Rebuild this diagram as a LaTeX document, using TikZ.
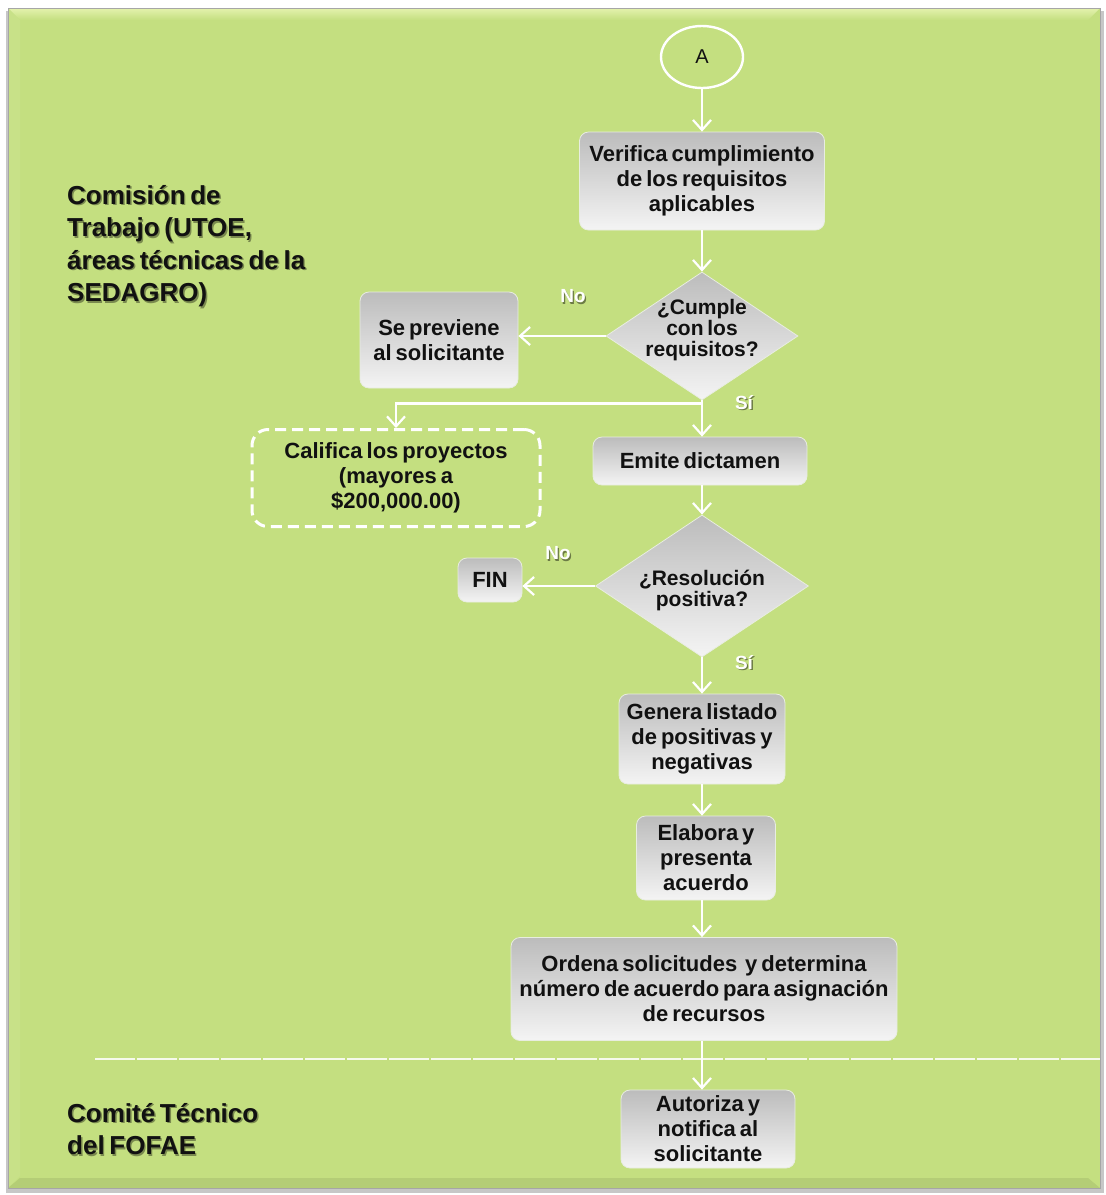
\documentclass[tikz,border=0pt]{standalone}
\usepackage{fontspec}
\setmainfont{Liberation Sans}[WordSpace={0.65,0.5,0.5}]
\usetikzlibrary{arrows.meta,shapes.geometric,calc}

\definecolor{panel}{HTML}{C4DF80}
\definecolor{bevel}{HTML}{E4F2AE}
\definecolor{boxtop}{HTML}{BCBCBC}
\definecolor{boxbot}{HTML}{F4F4F4}
\definecolor{boxedge}{HTML}{E8EDE0}
\definecolor{ink}{HTML}{111111}
\colorlet{shade}{panel!62!black}
\colorlet{tagshade}{panel!55!black}

\newcommand\fcBox{\bfseries\fontsize{22}{25}\selectfont}
\newcommand\fcDec{\bfseries\fontsize{21}{21}\selectfont}
\newcommand\fcSide{\bfseries\fontsize{26}{32.5}\selectfont}
\newcommand\fcTag{\bfseries\fontsize{19}{21}\selectfont}
% text with a soft drop shadow underneath
\newcommand\shtext[2][shade]{\makebox[0pt][l]{\kern1.4pt\raisebox{-1.4pt}{\color{#1}#2}}#2}

\begin{document}
\begin{tikzpicture}[x=1pt,y=-1pt,
  box/.style={rounded corners=9pt, top color=boxtop, bottom color=boxbot,
    draw=boxedge, line width=0.8pt, align=center, font=\fcBox, text=ink,
    inner sep=0pt},
  decision/.style={shape=diamond, aspect=1.5, inner sep=0pt,
    top color=boxtop, bottom color=boxbot, draw=boxedge, line width=0.8pt},
  dlabel/.style={align=center, font=\fcDec, text=ink, inner sep=0pt},
  optbox/.style={rounded corners=16pt, draw=white, line width=3pt,
    dash pattern=on 11pt off 6pt, align=center, font=\fcBox, text=ink,
    inner sep=0pt},
  tag/.style={font=\fcTag, text=white, inner sep=0pt},
  side/.style={font=\fcSide, text=ink, align=left, anchor=north west, inner sep=0pt},
  flow/.style={draw=white, line width=2.2pt,
    -{Straight Barb[length=10pt,width=18pt,line width=2.2pt]}},
  link/.style={draw=white, line width=2.2pt}]

\useasboundingbox (0,0) rectangle (1106,1195);

% page and green panel
\fill[white] (0,0) rectangle (1106,1195);
\fill[black!22] (6,11) rectangle (1104,1193);
\fill[panel] (8,8) rectangle (1100,1188);
\shade[top color=bevel, bottom color=panel] (8,8) -- (1100,8) -- (1088,20) -- (20,20) -- cycle;
\fill[panel!94!white] (8,8) -- (20,20) -- (20,1176) -- (8,1188) -- cycle;
\fill[panel!92!black] (8,1188) -- (20,1178) -- (1088,1178) -- (1100,1188) -- cycle;
\draw[black!35, line width=0.6pt] (8,8) rectangle (1100,1188);

% lane separator
\draw[white!85!panel, line width=1.1pt, dash pattern=on 40pt off 2pt] (95,1059) -- (1100,1059);

% lane titles
\node[side] (lane1) at (67,185) {\shtext{Comisión de}\\\shtext{Trabajo (UTOE,}\\\shtext{áreas técnicas de la}\\\shtext{SEDAGRO)}};
\node[side] (lane2) at (67,1103) {\shtext{Comité Técnico}\\\shtext{del FOFAE}};

% connector A
\node[ellipse, draw=white, line width=2.4pt, minimum width=82pt, minimum height=62pt,
  inner sep=0pt, font=\fontsize{20}{22}\selectfont, text=ink] (A) at (702,57) {A};

% process steps
\node[box, minimum width=245pt, minimum height=98pt] (verif) at (702,181)
  {Verifica cumplimiento\\de los requisitos\\aplicables};
\node[decision, minimum width=192pt, minimum height=128pt,
  label={[dlabel, yshift=6pt]center:{¿Cumple\\con los\\requisitos?}}] (d1) at (702,336) {};
\node[box, minimum width=158pt, minimum height=96pt] (prev) at (439,340)
  {Se previene\\al solicitante};
\node[optbox, minimum width=288pt, minimum height=97pt] (calif) at (396,478)
  {Califica los proyectos\\(mayores a\\\$200,000.00)};
\node[box, minimum width=214pt, minimum height=48pt] (emite) at (700,461)
  {Emite dictamen};
\node[decision, minimum width=213pt, minimum height=142pt,
  label={[dlabel, yshift=-4pt]center:{¿Resolución\\positiva?}}] (d2) at (702,586) {};
\node[box, minimum width=64pt, minimum height=44pt] (fin) at (490,580) {FIN};
\node[box, minimum width=166pt, minimum height=90pt] (gen) at (702,739)
  {Genera listado\\de positivas y\\negativas};
\node[box, minimum width=139pt, minimum height=84pt] (elab) at (706,858)
  {Elabora y\\presenta\\acuerdo};
\node[box, minimum width=386pt, minimum height=103pt] (orden) at (704,989)
  {Ordena solicitudes \ y determina\\número de acuerdo para asignación\\de recursos};
\node[box, minimum width=174pt, minimum height=78pt] (aut) at (708,1129)
  {Autoriza y\\notifica al\\solicitante};

% branch labels
\node[tag] (no1) at (573,297) {\shtext[tagshade]{No}};
\node[tag] (si1) at (744,403) {\shtext[tagshade]{Sí}};
\node[tag] (no2) at (558,554) {\shtext[tagshade]{No}};
\node[tag] (si2) at (744,663) {\shtext[tagshade]{Sí}};

% connectors
\draw[flow] (A) -- (verif.north -| A);
\draw[flow] (verif.south -| d1) -- (d1);
\draw[flow] (d1.west) -- (prev.east |- d1.west);
\coordinate (split) at ($(d1.south)+(0,3)$);
\draw[link] (d1.south) -- (split);
\draw[flow] (split) -| (calif.north);
\draw[flow] (split) -- (emite.north -| split);
\draw[flow] (emite.south -| d2.north) -- (d2.north);
\draw[flow] (d2.west) -- (fin.east |- d2.west);
\draw[flow] (d2.south) -- (gen.north -| d2.south);
\draw[flow] (gen.south -| d2.south) -- (elab.north -| d2.south);
\draw[flow] (elab.south -| d2.south) -- (orden.north -| d2.south);
\draw[flow] (orden.south -| d2.south) -- (aut.north -| d2.south);
\end{tikzpicture}
\end{document}
